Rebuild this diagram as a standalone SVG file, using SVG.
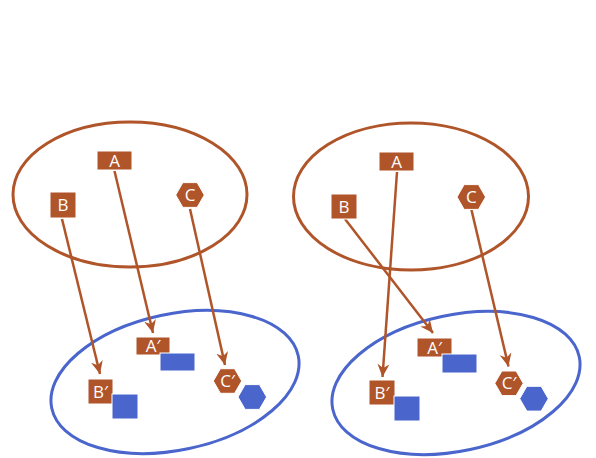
<svg xmlns="http://www.w3.org/2000/svg" width="596" height="458" viewBox="0 0 596 458">
<defs>
<style>
.set-src{fill:none;stroke:#b0552a;stroke-width:3}
.set-dst{fill:none;stroke:#4a66cc;stroke-width:3}
.bn{fill:#b0552a;stroke:#fff;stroke-width:1}
.bl{fill:#4a66cc;stroke:#fff;stroke-width:1}
.lbl{fill:#fff;font-family:"Open Sans","Liberation Sans",sans-serif;font-size:17px;text-anchor:middle}
.edge{fill:none;stroke:#b0552a;stroke-width:2.5;marker-end:url(#arr)}
</style>
<marker id="arr" markerUnits="userSpaceOnUse" markerWidth="14" markerHeight="14" viewBox="0 0 14 14" refX="13" refY="7" orient="auto">
<path d="M0,1 L13,7 L0,13 L4,7 z" fill="#b0552a"/>
</marker>
</defs>
<g id="sets">
<ellipse id="set-top-left" class="set-src" cx="130" cy="194.5" rx="117" ry="72.5"/>
<ellipse id="set-top-right" class="set-src" cx="411" cy="196.5" rx="117.5" ry="73.5"/>
<ellipse id="set-bottom-left" class="set-dst" cx="175" cy="382" rx="126" ry="68" transform="rotate(-12 175 382)"/>
<ellipse id="set-bottom-right" class="set-dst" cx="456" cy="383" rx="126" ry="68" transform="rotate(-12 456 383)"/>
</g>
<g id="connectors">
<line class="edge" x1="114.5" y1="171" x2="153" y2="333"/>
<line class="edge" x1="62" y1="219" x2="100" y2="374"/>
<line class="edge" x1="190" y1="209" x2="225" y2="365"/>
<line class="edge" x1="397" y1="172" x2="382.5" y2="377"/>
<line class="edge" x1="345" y1="219" x2="433" y2="333"/>
<line class="edge" x1="471.5" y1="210" x2="508.5" y2="366.5"/>
</g>
<g id="node-A-left"><rect class="bn" x="97" y="151" width="35" height="19"/><text class="lbl" x="114.5" y="166.5">A</text></g>
<g id="node-B-left"><rect class="bn" x="50" y="192" width="26" height="26"/><text class="lbl" x="63" y="211">B</text></g>
<g id="node-C-left"><polygon class="bn" points="204.3,195 197.15,207.4 182.85,207.4 175.7,195 182.85,182.6 197.15,182.6"/><text class="lbl" x="190" y="201">C</text></g>
<g id="node-A2-left"><rect class="bn" x="136" y="337" width="34" height="18"/><text class="lbl" x="153" y="352">A′</text></g>
<g id="node-A2-left-blue"><rect class="bl" x="160" y="353" width="35" height="18"/></g>
<g id="node-B2-left"><rect class="bn" x="88" y="379" width="25" height="25"/><text class="lbl" x="100.5" y="397.5">B′</text></g>
<g id="node-B2-left-blue"><rect class="bl" x="112" y="394" width="26" height="25"/></g>
<g id="node-C2-left"><polygon class="bn" points="241.7,381 234.6,393.3 220.4,393.3 213.3,381 220.4,368.7 234.6,368.7"/><text class="lbl" x="227.5" y="387">C′</text></g>
<g id="node-C2-left-blue"><polygon class="bl" points="266.6,397 259.45,409.4 245.15,409.4 238,397 245.15,384.6 259.45,384.6"/></g>
<g id="node-A-right"><rect class="bn" x="379" y="152" width="35" height="19"/><text class="lbl" x="396.5" y="167.5">A</text></g>
<g id="node-B-right"><rect class="bn" x="331" y="194" width="26" height="25"/><text class="lbl" x="344" y="212.5">B</text></g>
<g id="node-C-right"><polygon class="bn" points="485.6,197 478.45,209.4 464.15,209.4 457,197 464.15,184.6 478.45,184.6"/><text class="lbl" x="471.3" y="203">C</text></g>
<g id="node-A2-right"><rect class="bn" x="417" y="338" width="35" height="19"/><text class="lbl" x="434.5" y="353.5">A′</text></g>
<g id="node-A2-right-blue"><rect class="bl" x="442" y="354" width="35" height="19"/></g>
<g id="node-B2-right"><rect class="bn" x="369" y="380" width="26" height="25"/><text class="lbl" x="382" y="398.5">B′</text></g>
<g id="node-B2-right-blue"><rect class="bl" x="394" y="396" width="26" height="25"/></g>
<g id="node-C2-right"><polygon class="bn" points="523.2,383.3 516.1,395.6 501.9,395.6 494.8,383.3 501.9,371 516.1,371"/><text class="lbl" x="509" y="389.3">C′</text></g>
<g id="node-C2-right-blue"><polygon class="bl" points="548.3,398.7 541.15,411.1 526.85,411.1 519.7,398.7 526.85,386.3 541.15,386.3"/></g>
</svg>
